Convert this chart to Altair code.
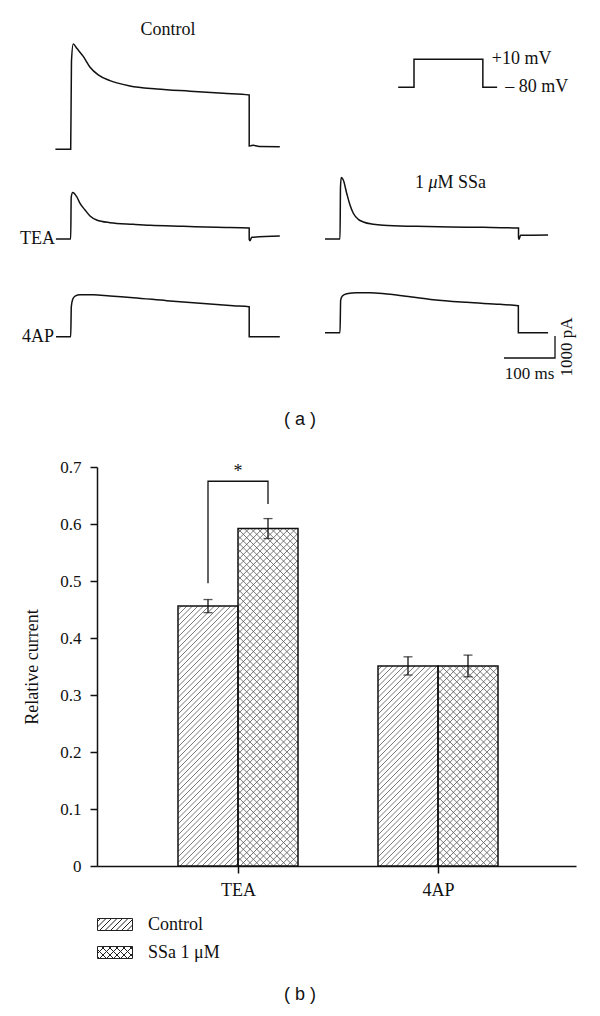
import math
import altair as alt
import pandas as pd

# =============================== data ===============================
# (a) K+ current traces: t = ms from the start of the +10 mV step, I = pA above holding current
ctrl_t = [-30, 0, 1.5, 5, 12, 25, 38, 54, 77, 116, 169, 234, 299, 350, 350, 353, 358, 372, 410]
ctrl_I = [0, 0, 4000, 4790, 4590, 4210, 3730, 3380, 3120, 2880, 2740, 2640, 2545, 2470, 150, 160, 180, 125, 118]
tea_t = [-29, 0, 1, 4, 11.7, 18.3, 28.1, 37.9, 51, 77, 123, 156, 221, 286, 350, 350, 351.5, 355, 410]
tea_I = [0, 0, 1900, 2110, 1924, 1621, 1318, 1045, 864, 742, 667, 621, 576, 530, 500, -15, -76, 76, 136]
tea_ssa_t = [-29.4, 0, 1, 2.6, 6.5, 13.1, 19.6, 26.1, 35.9, 45.8, 65.4, 85, 150, 216, 281, 350, 350, 351, 354, 408]
tea_ssa_I = [0, 0, 2380, 2800, 2680, 2080, 1545, 1170, 895, 775, 667, 621, 576, 545, 530, 500, 76, -15, 167, 182]
ap_t = [-28.8, 0, 1.2, 3.9, 8.5, 18.3, 44.4, 77.1, 122.9, 188.2, 253.6, 319, 350, 350, 410]
ap_I = [0, 0, 1364, 1697, 1848, 1909, 1909, 1848, 1773, 1636, 1515, 1409, 1364, 0, 0]
ap_ssa_t = [-29.4, 0, 1.3, 4.6, 13.1, 32.7, 58.8, 91.5, 137.3, 183, 248.4, 313.7, 349.7, 349.7, 408]
ap_ssa_I = [0, 0, 1485, 1667, 1773, 1818, 1818, 1758, 1636, 1500, 1379, 1288, 1227, 0, 0]

# voltage protocol (schematic)
proto_t = [-31, 0, 0, 135, 135, 163]
proto_mv = [-80, -80, 10, 10, -80, -80]
proto_labels = ["+10 mV", "\u2013 80 mV"]

scale_ms = 100
scale_pA = 1000

# (b) relative current
categories = ["TEA", "4AP"]
groups = ["Control", "SSa 1 \u03bcM"]
control_mean = [0.456, 0.351]
control_sem = [0.0115, 0.016]
ssa_mean = [0.592, 0.351]
ssa_sem = [0.0175, 0.019]
sig_bracket = [0.496, 0.675, 0.675, 0.635]
sig_star = 0.683

# ============================ layout / style ============================
W, H = 479, 399
PAD = {"left": 89, "top": 459, "right": 16, "bottom": 140}
X0, Y0 = 8 + PAD["left"], 8 + PAD["top"]          # page position of the plot origin
SERIF = "Liberation Serif"
SANS = "Liberation Sans"
INK = "#111111"

# ---- panel (a) geometry (page pixels)
PX_PER_MS = 0.51
PX_PER_PA = 0.022
PX_PER_MV = 28 / 90
onset_px = {"ctrl": 70.7, "tea": 70.7, "tea_ssa": 340.0, "ap": 70.7, "ap_ssa": 340.0}
base_px = {"ctrl": 149.3, "tea": 239.0, "tea_ssa": 239.0, "ap": 336.7, "ap_ssa": 332.7}
PROTO_ONSET_PX, PROTO_BASE_PX = 414.0, 87.3
SCALEBAR_CORNER_PX = (555.0, 358.0)


def to_t(t, panel):
    return t + (onset_px[panel] - X0) / PX_PER_MS


def to_v(i, panel):
    return i + (Y0 - base_px[panel]) / PX_PER_PA


X_MS = alt.Scale(domain=[0, W / PX_PER_MS], nice=False, zero=False)
Y_PA = alt.Scale(domain=[-H / PX_PER_PA, 0], nice=False, zero=False)

trace_data = {
    "ctrl": (ctrl_t, ctrl_I),
    "tea": (tea_t, tea_I),
    "tea_ssa": (tea_ssa_t, tea_ssa_I),
    "ap": (ap_t, ap_I),
    "ap_ssa": (ap_ssa_t, ap_ssa_I),
}
rows = []
for name, (ts, cs) in trace_data.items():
    for k, (t, c) in enumerate(zip(ts, cs)):
        rows.append({"trace": name, "i": k, "t": to_t(t, name), "v": to_v(c, name)})
traces_df = pd.DataFrame(rows)


def xa():
    return alt.X("t:Q", scale=X_MS, axis=None)


def ya():
    return alt.Y("v:Q", scale=Y_PA, axis=None)


traces = alt.Chart(traces_df).mark_line(
    color=INK, strokeWidth=1.5, interpolate="monotone"
).encode(x=xa(), y=ya(), detail="trace:N", order=alt.Order("i:Q"))

# scale bar
tc = (SCALEBAR_CORNER_PX[0] - X0) / PX_PER_MS
vc = (Y0 - SCALEBAR_CORNER_PX[1]) / PX_PER_PA
sb_df = pd.DataFrame({"i": [0, 1, 2], "t": [tc - scale_ms, tc, tc], "v": [vc, vc, vc + scale_pA]})
scalebar = alt.Chart(sb_df).mark_line(color=INK, strokeWidth=1.3).encode(
    x=xa(), y=ya(), order=alt.Order("i:Q"))


def text_a(df, **kw):
    base = dict(font=SERIF, fontSize=18, color=INK, baseline="middle")
    base.update(kw)
    return alt.Chart(df).mark_text(**base).encode(x=xa(), y=ya(), text="label:N")


lbl_control = text_a(pd.DataFrame({"label": ["Control"], "t": [to_t(191, "ctrl")], "v": [to_v(5420, "ctrl")]}),
                     align="center")
lbl_tea = text_a(pd.DataFrame({"label": ["TEA"], "t": [to_t(tea_t[0], "tea")], "v": [to_v(0, "tea")]}),
                 align="right", dx=-1)
lbl_ap = text_a(pd.DataFrame({"label": ["4AP"], "t": [to_t(ap_t[0], "ap")], "v": [to_v(0, "ap")]}),
                align="right", dx=-2)
ssa_pos = {"t": [to_t(147, "tea_ssa")], "v": [to_v(2545, "tea_ssa")]}
lbl_ssa1 = text_a(pd.DataFrame({"label": ["1"], **ssa_pos}), align="left")
lbl_ssa2 = text_a(pd.DataFrame({"label": ["\u03bc"], **ssa_pos}), align="left", dx=13.5, fontStyle="italic")
lbl_ssa3 = text_a(pd.DataFrame({"label": ["M SSa"], **ssa_pos}), align="left", dx=22.5)
lbl_ms = text_a(pd.DataFrame({"label": [f"{scale_ms} ms"], "t": [tc - scale_ms / 2], "v": [vc]}),
                align="center", dy=16, fontSize=17)
lbl_pa = text_a(pd.DataFrame({"label": [f"{scale_pA} pA"], "t": [tc], "v": [vc + scale_pA / 2]}),
                align="center", angle=270, dy=12, fontSize=17)

panel_a = [traces, scalebar, lbl_control, lbl_tea, lbl_ap, lbl_ssa1, lbl_ssa2, lbl_ssa3, lbl_ms, lbl_pa]

# ---- voltage protocol (own mV scale)
mv_top = proto_mv[0] + (PROTO_BASE_PX - Y0) / PX_PER_MV
Y_MV = alt.Scale(domain=[mv_top - H / PX_PER_MV, mv_top], nice=False, zero=False)
p_off = (PROTO_ONSET_PX - X0) / PX_PER_MS
proto_df = pd.DataFrame({"i": list(range(len(proto_t))), "t": [t + p_off for t in proto_t], "mv": proto_mv})
proto_line = alt.Chart(proto_df).mark_line(color=INK, strokeWidth=1.5).encode(
    x=xa(), y=alt.Y("mv:Q", scale=Y_MV, axis=None), order=alt.Order("i:Q"))
proto_lbl_hi = alt.Chart(pd.DataFrame({"label": [proto_labels[0]], "t": [proto_t[3] + p_off], "mv": [proto_mv[3]]})
                         ).mark_text(font=SERIF, fontSize=18, color=INK, align="left", baseline="middle", dx=9
                                     ).encode(x=xa(), y=alt.Y("mv:Q", scale=Y_MV, axis=None), text="label:N")
proto_lbl_lo = alt.Chart(pd.DataFrame({"label": [proto_labels[1]], "t": [proto_t[5] + p_off], "mv": [proto_mv[5]]})
                         ).mark_text(font=SERIF, fontSize=18, color=INK, align="left", baseline="middle", dx=8
                                     ).encode(x=xa(), y=alt.Y("mv:Q", scale=Y_MV, axis=None), text="label:N")
protocol = [proto_line, proto_lbl_hi, proto_lbl_lo]

# ---- panel (b)
KX = 200.0                  # px per category step
KY = H / 0.7                # px per unit of relative current
BAR_W = 0.3                 # bar width in category steps
X_BAR = alt.Scale(domain=[-0.705, -0.705 + W / KX], nice=False, zero=False)
Y_BAR = alt.Scale(domain=[0, 0.7], nice=False, zero=True)

bar_rows = []
for i, cat in enumerate(categories):
    bar_rows.append({"cat": cat, "group": groups[0], "x1": i - BAR_W, "x2": i, "c": i - BAR_W / 2,
                     "mean": control_mean[i], "lo": control_mean[i] - control_sem[i],
                     "hi": control_mean[i] + control_sem[i], "base": 0.0})
    bar_rows.append({"cat": cat, "group": groups[1], "x1": i, "x2": i + BAR_W, "c": i + BAR_W / 2,
                     "mean": ssa_mean[i], "lo": ssa_mean[i] - ssa_sem[i], "hi": ssa_mean[i] + ssa_sem[i],
                     "base": 0.0})
bars_df = pd.DataFrame(bar_rows)


def hatch(w, h, sp, up, phase=0.0, min_len=0.5):
    segs = []
    if up:   # '/' lines: z = u - s
        k = math.floor(-h / sp) - 1
        while True:
            s = k * sp + phase
            if s > w:
                break
            u0, u1 = max(0.0, s), min(w, h + s)
            if u1 - u0 > min_len:
                segs.append((u0, u0 - s, u1, u1 - s))
            k += 1
    else:    # '\' lines: z = s - u
        k = 0
        while True:
            s = k * sp + phase
            if s > w + h:
                break
            u0, u1 = max(0.0, s - h), min(w, s)
            if u1 - u0 > min_len:
                segs.append((u0, s - u0, u1, s - u1))
            k += 1
    return segs


h_rows = []
for r in bar_rows:
    w_px, h_px = (r["x2"] - r["x1"]) * KX, r["mean"] * KY
    fams = [(True, 5.5)] if r["group"] == groups[0] else [(True, 6.7), (False, 6.7)]
    for up, sp in fams:
        for u0, z0, u1, z1 in hatch(w_px, h_px, sp, up, phase=2.0):
            h_rows.append({"x": r["x1"] + u0 / KX, "x2": r["x1"] + u1 / KX, "y": z0 / KY, "y2": z1 / KY})
hatch_df = pd.DataFrame(h_rows)

AXIS_STYLE = dict(grid=False, labelFont=SERIF, labelColor=INK, titleFont=SERIF, titleColor=INK,
                  titleFontWeight="normal", tickSize=7, tickWidth=1.5, tickColor=INK,
                  domainColor=INK, domainWidth=1.5)
x_axis = alt.Axis(values=list(range(len(categories))),
                  labelExpr="[" + ",".join(f"'{c}'" for c in categories) + "][datum.value]",
                  title=None, labelFontSize=18, labelPadding=8, **AXIS_STYLE)
y_axis = alt.Axis(values=[round(k * 0.1, 1) for k in range(8)], format="~g", title="Relative current",
                  titleFontSize=18, titlePadding=18, labelFontSize=17, labelPadding=9, **AXIS_STYLE)

bars_fill = alt.Chart(bars_df).mark_rect(color="white").encode(
    x=alt.X("x1:Q", scale=X_BAR, axis=x_axis), x2="x2:Q",
    y=alt.Y("mean:Q", scale=Y_BAR, axis=y_axis), y2="base:Q")
hatch_lines = alt.Chart(hatch_df).mark_rule(color="#555555", strokeWidth=0.8).encode(
    x=alt.X("x:Q", scale=X_BAR, axis=None), x2="x2:Q",
    y=alt.Y("y:Q", scale=Y_BAR, axis=None), y2="y2:Q")
bars_outline = alt.Chart(bars_df).mark_rect(fillOpacity=0, stroke=INK, strokeWidth=1.5).encode(
    x=alt.X("x1:Q", scale=X_BAR, axis=None), x2="x2:Q",
    y=alt.Y("mean:Q", scale=Y_BAR, axis=None), y2="base:Q")
err_rule = alt.Chart(bars_df).mark_rule(color=INK, strokeWidth=1.3).encode(
    x=alt.X("c:Q", scale=X_BAR, axis=None), y=alt.Y("lo:Q", scale=Y_BAR, axis=None), y2="hi:Q")
cap_lo = alt.Chart(bars_df).mark_tick(color=INK, orient="horizontal", size=9, thickness=1.3).encode(
    x=alt.X("c:Q", scale=X_BAR, axis=None), y=alt.Y("lo:Q", scale=Y_BAR, axis=None))
cap_hi = alt.Chart(bars_df).mark_tick(color=INK, orient="horizontal", size=9, thickness=1.3).encode(
    x=alt.X("c:Q", scale=X_BAR, axis=None), y=alt.Y("hi:Q", scale=Y_BAR, axis=None))

i_sig = categories.index("TEA")
bracket_x = [i_sig - BAR_W / 2, i_sig - BAR_W / 2, i_sig + BAR_W / 2, i_sig + BAR_W / 2]
bracket_df = pd.DataFrame({"i": list(range(4)), "x": bracket_x, "y": sig_bracket})
bracket = alt.Chart(bracket_df).mark_line(color=INK, strokeWidth=1.3).encode(
    x=alt.X("x:Q", scale=X_BAR, axis=None), y=alt.Y("y:Q", scale=Y_BAR, axis=None), order=alt.Order("i:Q"))
star = alt.Chart(pd.DataFrame({"x": [sum(bracket_x) / 4], "y": [sig_star], "label": ["*"]})).mark_text(
    font=SERIF, fontSize=18, color=INK, align="center", baseline="alphabetic").encode(
    x=alt.X("x:Q", scale=X_BAR, axis=None), y=alt.Y("y:Q", scale=Y_BAR, axis=None), text="label:N")


# legend swatches: outlined box with the same hatching, as custom symbol paths
def swatch_path(families):
    hw, hh = 1.75, 0.6
    parts = [f"M{-hw},{-hh}L{hw},{-hh}L{hw},{hh}L{-hw},{hh}Z"]
    for up, sp in families:
        for u0, z0, u1, z1 in hatch(2 * hw, 2 * hh, sp, up, phase=0.2, min_len=0.05):
            parts.append(f"M{-hw + u0:.3f},{hh - z0:.3f}L{-hw + u1:.3f},{hh - z1:.3f}")
    return "".join(parts)


sw_paths = [swatch_path([(True, 0.55)]), swatch_path([(True, 0.7), (False, 0.7)])]
legend_pts = alt.Chart(bars_df).mark_point(opacity=0, size=400, color="#222222", filled=False,
                                           strokeWidth=1).encode(
    x=alt.X("c:Q", scale=X_BAR, axis=None), y=alt.Y("mean:Q", scale=Y_BAR, axis=None),
    shape=alt.Shape("group:N", scale=alt.Scale(domain=groups, range=sw_paths),
                    legend=alt.Legend(title=None, orient="none", legendX=7.5, legendY=447, symbolSize=400,
                                      symbolOpacity=1, symbolStrokeColor="#222222", symbolFillColor="white",
                                      symbolStrokeWidth=1, labelFont=SERIF, labelFontSize=18, labelColor=INK,
                                      labelOffset=22.5, rowPadding=8, padding=0, labelLimit=0)))

panel_b = [bars_fill, hatch_lines, bars_outline, err_rule, cap_lo, cap_hi, bracket, star, legend_pts]

# panel letters (pixel positions relative to the plot origin)
letters = alt.Chart(pd.DataFrame({"label": ["( a )", "( b )"], "px": [203, 203], "py": [420 - Y0, 995 - Y0]})
                    ).mark_text(font=SANS, fontSize=18, color=INK, align="center", baseline="middle").encode(
    x=alt.X("px:Q", scale=None, axis=None), y=alt.Y("py:Q", scale=None, axis=None), text="label:N")

chart = alt.layer(*panel_b, *panel_a, *protocol, letters).resolve_scale(
    x="independent", y="independent"
).properties(
    width=W, height=H, autosize=alt.AutoSizeParams(type="none"), padding=PAD, background="white"
).configure_view(
    stroke=None
).configure_axis(
    **AXIS_STYLE
).configure_axisX(
    labelFontSize=18, labelPadding=8
).configure_axisY(
    labelFontSize=17, labelPadding=9, titleFontSize=18, titlePadding=18
)

chart.save("out.html", embed_options={"renderer": "svg", "actions": False})
